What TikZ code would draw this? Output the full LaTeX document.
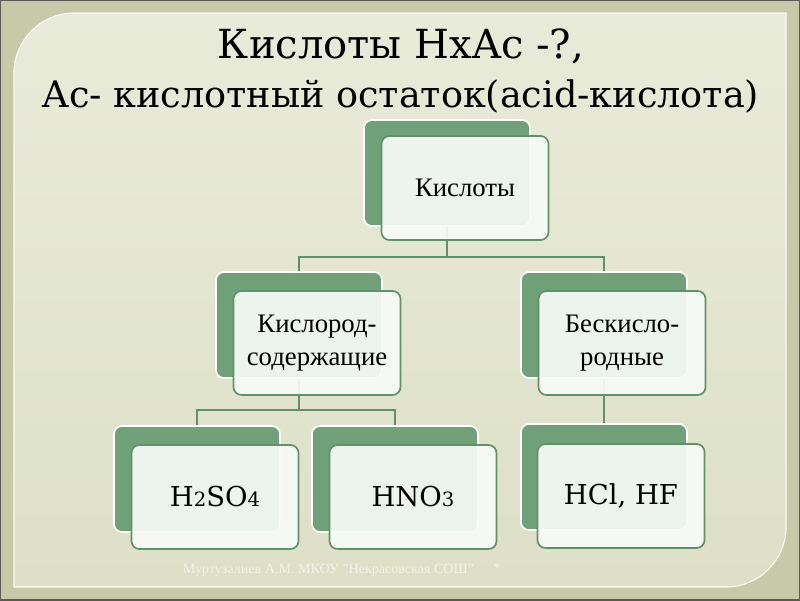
\documentclass[tikz,border=0pt]{standalone}
\usepackage{fontspec}
\setmainfont{Liberation Serif}
\newfontfamily\slab{DejaVu Serif}
\usetikzlibrary{calc}

\definecolor{frame}{RGB}{199,202,168}
\definecolor{paneltop}{RGB}{233,235,218}
\definecolor{panelbot}{RGB}{221,224,198}
\definecolor{leaf}{RGB}{112,161,121}
\definecolor{leafline}{RGB}{96,145,106}
\definecolor{card}{RGB}{248,250,247}
\definecolor{foottext}{RGB}{242,243,232}

\begin{document}
\begin{tikzpicture}[x=0.025cm, y=-0.025cm,
  backbox/.style={rectangle, rounded corners=0.2cm, minimum width=4.15cm, minimum height=2.65cm,
    fill=leaf, draw=white, line width=1.2pt},
  frontbox/.style={rectangle, rounded corners=0.2cm, minimum width=4.175cm, minimum height=2.6cm,
    fill=card, fill opacity=0.92, text opacity=1, draw=leafline, line width=1.2pt,
    align=center, font=\fontsize{19}{23}\selectfont},
  formula/.style={font=\slab\fontsize{19.5}{24}\selectfont},
  link/.style={draw=leafline, line width=1.3pt}]
  \useasboundingbox (0,0) rectangle (800,600);
  % фон слайда
  \fill[frame] (0,0) rectangle (800,600);
  \draw[gray!70!black, line width=1pt] (0,0) rectangle (800,600);
  \shade[top color=paneltop, bottom color=panelbot, draw=white!85!paneltop, line width=0.8pt]
    (14,587) -- (14,73) .. controls (14,40) and (41,13) .. (74,13) -- (786,13) -- (786,527)
    .. controls (786,560) and (759,587) .. (726,587) -- cycle;
  % заголовок
  \node[font=\slab\fontsize{28.5}{32}\selectfont] (title) at (401,46) {Кислоты HxAc -?,};
  \node[font=\slab\fontsize{26}{30}\selectfont] (subtitle) at (401,96) {Ac- кислотный остаток(acid-кислота)};
  % задние (зелёные) карточки
  \node[backbox] (acidb) at (447,173) {};
  \node[backbox] (oxyb) at (299,325) {};
  \node[backbox] (anoxb) at (604,325) {};
  \node[backbox] (sulfb) at (197,479) {};
  \node[backbox] (nitrb) at (395,479) {};
  \node[backbox] (halb) at (604,477) {};
  % связи
  \coordinate (j1) at (447,257);
  \coordinate (j2) at (299,410);
  \draw[link] (acidb.south) -- (j1);
  \draw[link] (oxyb.north) |- (j1) -| (anoxb.north);
  \draw[link] (oxyb.south) -- (j2);
  \draw[link] (sulfb.north) |- (j2) -| (nitrb.north);
  \draw[link] (anoxb.south) -- (halb.north);
  % передние карточки с текстом
  \node[frontbox] (acid) at (465,188) {Кислоты};
  \node[frontbox] (oxy) at (317,343) {Кислород-\\содержащие};
  \node[frontbox] (anox) at (622,343) {Бескисло-\\родные};
  \node[frontbox, formula] (sulf) at (215,497) {H{\fontsize{14}{14}\selectfont 2}SO{\fontsize{14}{14}\selectfont 4}};
  \node[frontbox, formula] (nitr) at (413,497) {HNO{\fontsize{14}{14}\selectfont 3}};
  \node[frontbox, formula] (hal) at (621,496) {HCl, HF};
  % подпись внизу
  \node[anchor=west, text=foottext, font=\fontsize{10}{12}\selectfont] (author) at (178,570)
    {Муртузалиев А.М. МКОУ "Некрасовская СОШ"};
  \node[text=foottext, font=\fontsize{10}{12}\selectfont] (star) at (497,568) {*};
\end{tikzpicture}
\end{document}
